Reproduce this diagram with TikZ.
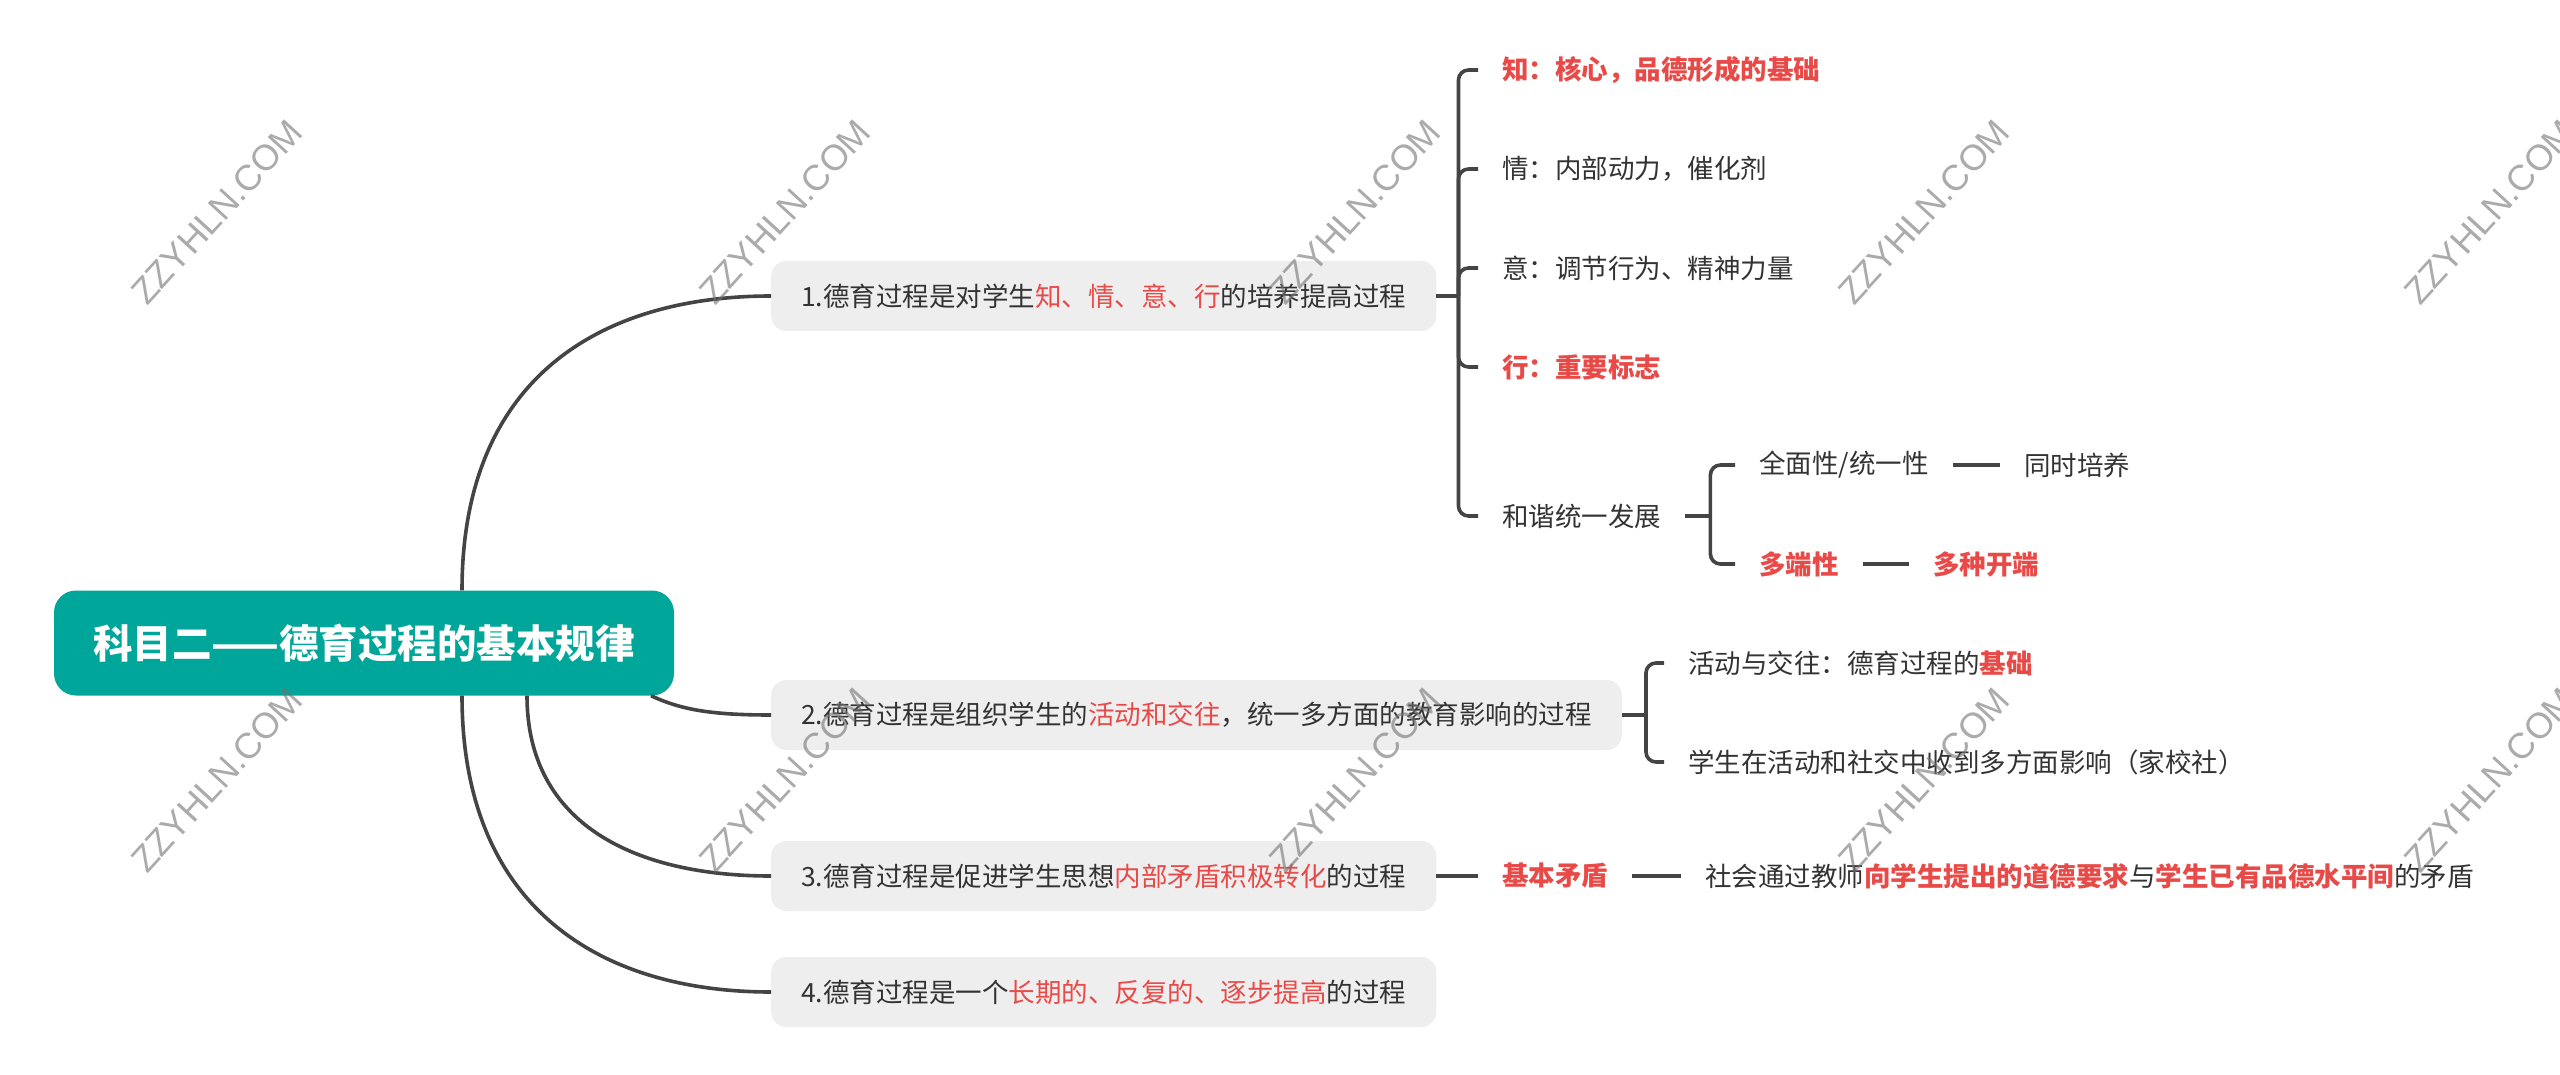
\documentclass[tikz,border=0pt]{standalone}
\usepackage{fontspec}
\setmainfont{Noto Sans CJK SC}
\newfontfamily\wmfont{Liberation Sans}

\definecolor{rootgreen}{RGB}{0,166,153}
\definecolor{boxgray}{RGB}{238,238,238}
\definecolor{linegray}{RGB}{68,68,68}
\definecolor{txtgray}{RGB}{51,51,51}
\definecolor{hired}{RGB}{232,74,72}

\newcommand{\hilite}[1]{\textcolor{hired}{#1}}
\newcommand{\hibold}[1]{\textcolor{hired}{\bfseries #1}}

\begin{document}
\begin{tikzpicture}[
	x=1pt, y=-1pt,
	root/.style={
		fill=rootgreen, text=white,
		rounded corners=22pt,
		minimum width=620pt, minimum height=105pt,
		font=\fontsize{39.5}{39.5}\selectfont\bfseries,
	},
	topic/.style={
		fill=boxgray, text=txtgray,
		rounded corners=15pt,
		anchor=west, inner xsep=30pt, minimum height=70pt,
		font=\fontsize{26.5}{26.5}\selectfont,
	},
	leaf/.style={
		text=txtgray, anchor=west,
		inner xsep=24pt, inner ysep=4pt,
		font=\fontsize{26.5}{26.5}\selectfont,
	},
	hot/.style={
		leaf, text=hired,
		font=\fontsize{26.5}{26.5}\selectfont\bfseries,
	},
	link/.style={draw=linegray, line width=3.6pt},
	brace/.style={link, rounded corners=10pt},
	wm/.style={
		text=black!55, text opacity=0.6, rotate=47.5,
		font=\wmfont\fontsize{36}{36}\selectfont,
	},
]

\path[fill=white, use as bounding box] (0,0) rectangle (2560,1075);

% main topic
\node[root] (root) at (364,643) {科目二——德育过程的基本规律};

% the four laws
\node[topic] (t1) at (771,296) {1.德育过程是对学生\hilite{知、情、意、行}的培养提高过程};
\node[topic] (t2) at (771,715) {2.德育过程是组织学生的\hilite{活动和交往}，统一多方面的教育影响的过程};
\node[topic] (t3) at (771,876) {3.德育过程是促进学生思想\hilite{内部矛盾积极转化}的过程};
\node[topic] (t4) at (771,992) {4.德育过程是一个\hilite{长期的、反复的、逐步提高}的过程};

\draw[link] ([xshift=98]root.north) .. controls +(0,-212) and +(-171,0) .. (t1.west);
\draw[link] ([xshift=287]root.south) .. controls +(30,14) and +(-60,0) .. (t2.west);
\draw[link] ([xshift=163]root.south) .. controls +(0,130) and +(-134,0) .. (t3.west);
\draw[link] ([xshift=98]root.south) .. controls +(0,212) and +(-171,0) .. (t4.west);

% 1. zhi qing yi xing
\node[hot] (zhi) at (1478,70) {知：核心，品德形成的基础};
\node[leaf] (qing) at (1478,169) {情：内部动力，催化剂};
\node[leaf] (yi) at (1478,268) {意：调节行为、精神力量};
\node[hot] (xing) at (1478,367) {行：重要标志};
\node[leaf] (hexie) at (1478,516) {和谐统一发展};

\coordinate (j1) at ([xshift=22]t1.east);
\draw[link] (t1.east) -- (j1);
\foreach \c in {zhi,qing,yi,xing,hexie}
	\draw[brace] (j1) |- (\c.west);

\node[leaf] (qm) at (1735,465) {全面性/统一性};
\node[leaf] (tspy) at (2000,465) {同时培养};
\node[hot] (dd) at (1735,564) {多端性};
\node[hot] (dzkd) at (1909,564) {多种开端};

\coordinate (j2) at ([xshift=25]hexie.east);
\draw[link] (hexie.east) -- (j2);
\draw[brace] (j2) |- (qm.west);
\draw[brace] (j2) |- (dd.west);
\draw[link] (qm.east) -- (tspy.west);
\draw[link] (dd.east) -- (dzkd.west);

% 2. activity
\node[leaf] (hdjw) at (1664,663) {活动与交往：德育过程的\hibold{基础}};
\node[leaf] (dfmyx) at (1664,762) {学生在活动和社交中收到多方面影响（家校社）};

\coordinate (j3) at ([xshift=24]t2.east);
\draw[link] (t2.east) -- (j3);
\draw[brace] (j3) |- (hdjw.west);
\draw[brace] (j3) |- (dfmyx.west);

% 3. contradiction
\node[hot] (jbmd) at (1478,876) {基本矛盾};
\node[leaf] (shyq) at (1681,876) {社会通过教师\hibold{向学生提出的道德要求}与\hibold{学生已有品德水平间}的矛盾};
\draw[link] (t3.east) -- (jbmd.west);
\draw[link] (jbmd.east) -- (shyq.west);

% watermark
\foreach \x in {217,785,1355,1924,2490}
	\foreach \y in {212,780}
		\node[wm] at (\x,\y) {ZZYHLN.COM};

\end{tikzpicture}
\end{document}
